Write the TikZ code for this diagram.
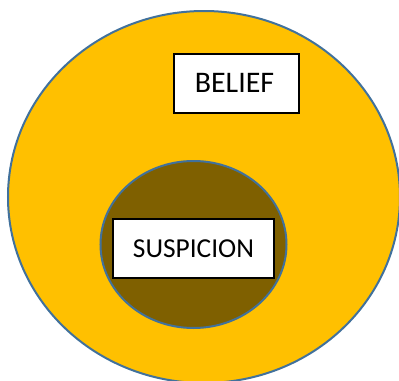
\documentclass[tikz,border=0pt]{standalone}
\usepackage{fontspec}
\setmainfont{Carlito}
\usetikzlibrary{shapes.geometric}
\definecolor{gold}{HTML}{FFC000}
\definecolor{darkgold}{HTML}{7F6000}
\definecolor{rimblue}{HTML}{41719C}

\begin{document}
\begin{tikzpicture}[x=1bp,y=-1bp,
 ring/.style={ellipse,draw=rimblue,line width=2bp,inner sep=0pt},
 label/.style={draw=black,fill=white,line width=1.6bp,inner sep=0pt,align=center}]
\useasboundingbox (0,0) rectangle (399,381);
\clip (0,0) rectangle (399,381);
\node[ring,fill=gold,minimum width=392bp,minimum height=372bp] (belief) at (204,197) {};
\node[ring,fill=darkgold,minimum width=186bp,minimum height=167bp] (suspicion) at (193.5,244.5) {};
\node[label,minimum width=125bp,minimum height=59bp,font=\fontsize{30}{34}\selectfont] (beliefbox) at (236.5,83.2) {BELIEF\hspace{4bp}};
\node[label,minimum width=161bp,minimum height=59bp,font=\fontsize{27.5}{32}\selectfont] (suspbox) at (193.5,248.5) {SUSPICION};
\end{tikzpicture}
\end{document}
